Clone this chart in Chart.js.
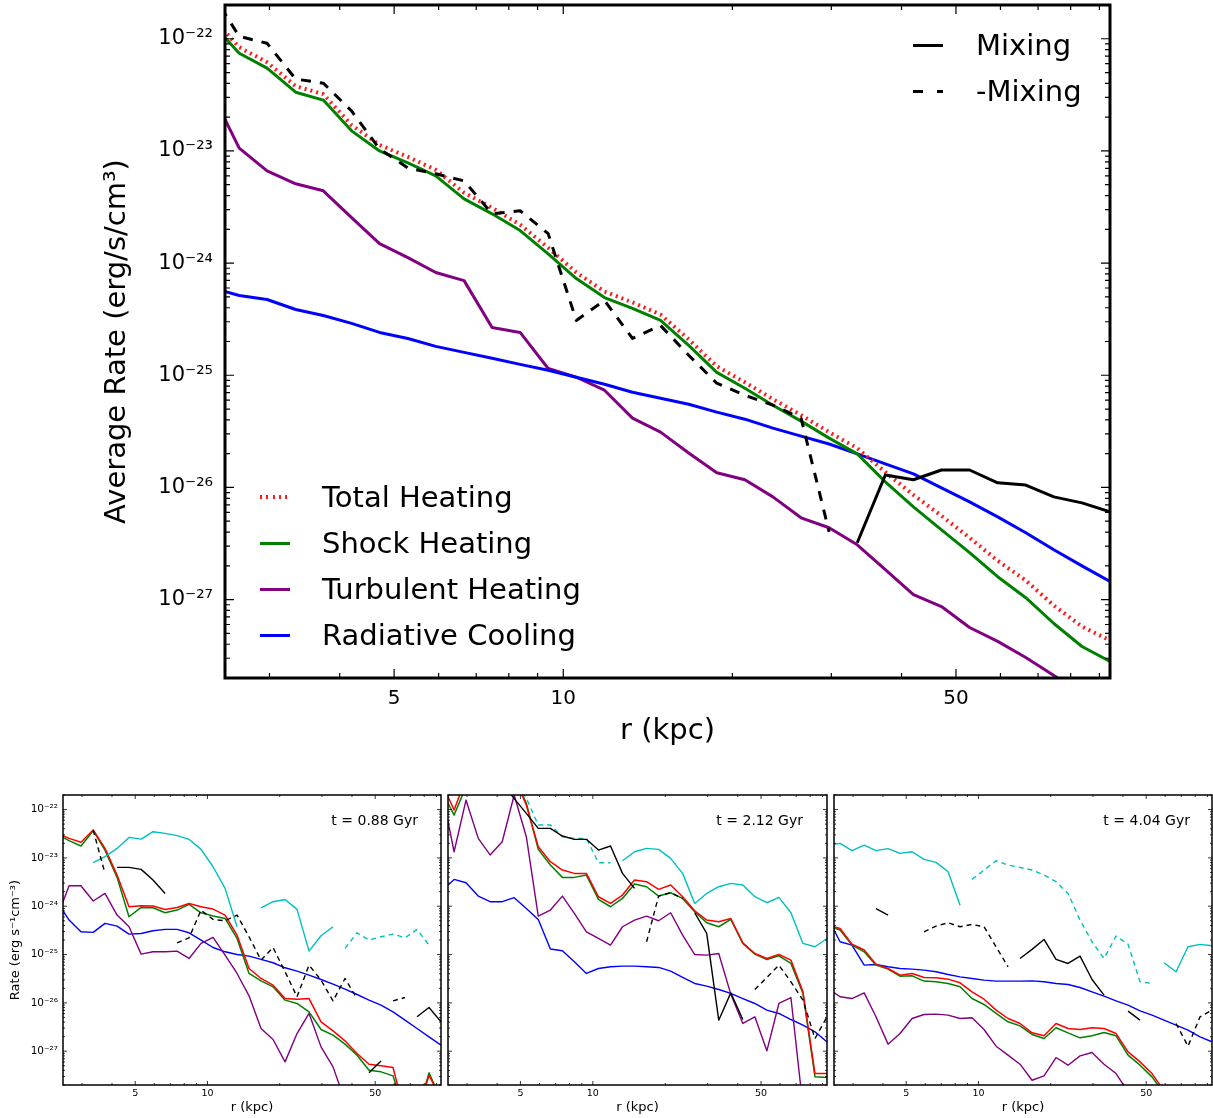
<!DOCTYPE html>
<html>
<head>
<meta charset="utf-8">
<script src="https://cdn.jsdelivr.net/npm/chart.js@4.4.1/dist/chart.umd.min.js"></script>
<style>
  html, body { margin: 0; padding: 0; background: #fff; }
  body { position: relative; width: 1213px; height: 1118px; overflow: hidden; font-family: "DejaVu Sans", sans-serif; color: #000; }
  canvas { position: absolute; }
  .txt { position: absolute; white-space: nowrap; color: #000; z-index: 5; }
  .smp { position: absolute; z-index: 5; }
</style>
</head>
<body>
<script>
// ---------------- data ----------------
const r = [2.36, 2.65, 2.97, 3.34, 3.74, 4.20, 4.71, 5.29, 5.93, 6.66, 7.47, 8.38, 9.40, 10.55, 11.84, 13.28, 14.90, 16.72, 18.76, 21.05, 23.61, 26.50, 29.73, 33.36, 37.43, 42.00, 47.12, 52.87, 59.32, 66.56, 74.68, 83.79, 94.02];

const xMajor = [5, 10, 50];
const xMajorLabels = ['5', '10', '50'];
const xMinor = [3, 4, 6, 7, 8, 9, 20, 30, 40, 60, 70, 80, 90];
const yMajor = [1e-27, 1e-26, 1e-25, 1e-24, 1e-23, 1e-22];
const yMajorLabels = ['10\u207B\u00B2\u2077', '10\u207B\u00B2\u2076', '10\u207B\u00B2\u2075', '10\u207B\u00B2\u2074', '10\u207B\u00B2\u00B3', '10\u207B\u00B2\u00B2'];
const xMin = 2.5, xMax = 94;
const yMin = 2e-28, yMax = 2e-22;

// main panel
const mainTotal = [1.58e-22, 8.4e-23, 6.18e-23, 3.78e-23, 3.21e-23, 1.70e-23, 1.13e-23, 8.85e-24, 6.78e-24, 4.24e-24, 3.11e-24, 2.20e-24, 1.37e-24, 8.24e-25, 5.58e-25, 4.46e-25, 3.48e-25, 2.09e-25, 1.20e-25, 8.67e-26, 6.12e-26, 4.41e-26, 3.11e-26, 2.24e-26, 1.37e-26, 8.57e-27, 5.58e-27, 3.56e-27, 2.22e-27, 1.48e-27, 8.85e-28, 5.75e-28, 4.33e-28];
const mainShock = [1.40e-22, 7.43e-23, 5.47e-23, 3.34e-23, 2.84e-23, 1.51e-23, 1.0e-23, 7.82e-24, 6.0e-24, 3.74e-24, 2.75e-24, 1.95e-24, 1.21e-24, 7.28e-25, 4.93e-25, 3.94e-25, 3.08e-25, 1.85e-25, 1.06e-25, 7.66e-26, 5.41e-26, 3.90e-26, 2.75e-26, 1.99e-26, 1.12e-26, 6.71e-27, 4.19e-27, 2.62e-27, 1.60e-27, 1.04e-27, 6.12e-28, 3.82e-28, 2.81e-28];
const mainTurb = [3.41e-23, 1.06e-23, 6.64e-24, 5.09e-24, 4.41e-24, 2.54e-24, 1.49e-24, 1.12e-24, 8.24e-25, 6.98e-25, 2.67e-25, 2.41e-25, 1.15e-25, 9.6e-26, 7.36e-26, 4.15e-26, 3.11e-26, 2.03e-26, 1.35e-26, 1.17e-26, 8.24e-27, 5.36e-27, 4.37e-27, 3.08e-27, 1.85e-27, 1.11e-27, 8.67e-28, 5.64e-28, 4.24e-28, 3.05e-28, 2.11e-28, 1.43e-28, 1.01e-28];
const mainCool = [6.05e-25, 5.14e-25, 4.74e-25, 3.86e-25, 3.41e-25, 2.90e-25, 2.41e-25, 2.13e-25, 1.81e-25, 1.60e-25, 1.42e-25, 1.25e-25, 1.11e-25, 9.6e-26, 8.32e-26, 7.06e-26, 6.25e-26, 5.52e-26, 4.69e-26, 4.06e-26, 3.38e-26, 2.87e-26, 2.44e-26, 1.99e-26, 1.62e-26, 1.32e-26, 9.9e-27, 7.43e-27, 5.47e-27, 3.94e-27, 2.78e-27, 2.0e-27, 1.45e-27];
const mainMixNeg = [2.64e-22, 1.05e-22, 9.12e-23, 4.37e-23, 4.02e-23, 2.27e-23, 1.04e-23, 7.06e-24, 6.25e-24, 5.41e-24, 2.75e-24, 2.93e-24, 1.83e-24, 3.08e-25, 4.65e-25, 2.13e-25, 2.78e-25, 1.51e-25, 8.49e-26, 6.64e-26, 5.41e-26, 4.15e-26, 4.02e-27, null, null, null, null, null, null, null, null, null, null];
const mainMixPos = [null, null, null, null, null, null, null, null, null, null, null, null, null, null, null, null, null, null, null, null, null, null, null, 3.21e-27, 1.29e-26, 1.17e-26, 1.43e-26, 1.43e-26, 1.10e-26, 1.05e-26, 8.24e-27, 7.28e-27, 6.05e-27];

// panel t = 0.88 Gyr
const s1Total = [3.21e-23, 2.53e-23, 2.10e-23, 3.77e-23, 1.57e-23, 4.41e-24, 9.75e-25, 1.02e-24, 1.01e-24, 8.59e-25, 9.44e-25, 1.14e-24, 9.75e-25, 8.73e-25, 6.55e-25, 2.52e-25, 5.15e-26, 3.20e-26, 2.33e-26, 1.23e-26, 1.19e-26, 1.23e-26, 4.06e-27, 2.64e-27, 1.64e-27, 8.95e-28, 5.39e-28, 4.98e-28, 4.60e-28, 5e-29, 5e-29, 3.19e-28, 1e-28];
const s1Shock = [3.07e-23, 2.27e-23, 1.76e-23, 3.65e-23, 1.45e-23, 3.95e-24, 6.05e-25, 9.44e-25, 9.29e-25, 7.32e-25, 8.32e-25, 1.09e-24, 7.32e-25, 6.25e-25, 5.58e-25, 2.15e-25, 4.06e-26, 2.86e-26, 2.15e-26, 1.14e-26, 9.72e-27, 6.53e-27, 2.81e-27, 2.15e-27, 1.40e-27, 8.28e-28, 4.05e-28, 3.74e-28, 3.09e-28, 5e-29, 5e-29, 3.57e-28, 1e-28];
const s1Turb = [5.77e-25, 2.65e-24, 2.65e-24, 1.28e-24, 1.84e-24, 6.55e-25, 3.76e-25, 1.02e-25, 1.14e-25, 1.14e-25, 1.18e-25, 8.3e-26, 1.70e-25, 2.26e-25, 9.73e-26, 4.06e-26, 1.40e-26, 2.95e-27, 1.75e-27, 6.02e-28, 2.32e-27, 6.04e-27, 1.23e-27, 4.74e-28, 9.3e-29, null, null, null, null, null, null, null, null];
const s1Cool = [1.26e-24, 5.16e-25, 2.96e-25, 2.87e-25, 4.41e-25, 3.88e-25, 2.65e-25, 2.73e-25, 3.10e-25, 3.31e-25, 3.31e-25, 2.82e-25, 1.99e-25, 1.40e-25, 1.14e-25, 1.00e-25, 9.29e-26, 7.92e-26, 6.76e-26, 5.32e-26, 4.54e-26, 3.75e-26, 3.05e-26, 2.44e-26, 1.92e-26, 1.49e-26, 1.14e-26, 8.97e-27, 6.53e-27, 4.39e-27, 2.95e-27, 1.98e-27, 1.33e-27];
const s1MixPos = [null, null, null, null, null, 6.35e-24, 6.35e-24, 5.78e-24, 3.48e-24, 1.84e-24, null, null, null, null, null, null, null, null, null, null, null, null, null, null, null, null, 3.57e-28, 6.31e-28, null, null, 5.15e-27, 8.03e-27, 4.06e-27];
const s1MixNeg = [null, null, null, 3.77e-23, 4.78e-24, null, null, null, null, null, 1.75e-25, 2.22e-25, 8.32e-25, 5.33e-25, 5.0e-25, 6.55e-25, 2.33e-25, 7.67e-26, 1.40e-25, 4.40e-26, 1.34e-26, 6.04e-26, 2.96e-26, 1.10e-26, 3.20e-26, 1.23e-26, null, null, 1.10e-26, 1.29e-26, null, null, null];
const s1CyanPos = [null, null, null, 7.94e-24, 1.06e-23, 1.57e-23, 2.65e-23, 2.45e-23, 3.48e-23, 3.21e-23, 2.88e-23, 2.42e-23, 1.50e-23, 6.56e-24, 2.34e-24, 3.76e-25, null, 9.29e-25, 1.24e-24, 1.38e-24, 8.59e-25, 1.18e-25, 2.45e-25, 3.76e-25, null, null, null, null, null, null, null, null, null];
const s1CyanNeg = [null, null, null, null, null, null, null, null, null, null, null, null, null, null, null, null, null, null, null, null, null, null, null, null, 1.34e-25, 2.82e-25, 1.99e-25, 2.33e-25, 2.65e-25, 2.22e-25, 3.31e-25, 1.57e-25, null];

// panel t = 2.12 Gyr
const s2Total = [3.48e-22, 9.77e-23, 4.43e-22, 6.59e-22, 6.59e-22, 6.59e-22, 4.80e-22, 1.24e-22, 1.70e-23, 8.33e-24, 5.60e-24, 4.78e-24, 4.78e-24, 1.57e-24, 1.14e-24, 1.70e-24, 3.48e-24, 3.21e-24, 2.23e-24, 2.74e-24, 1.57e-24, 8.05e-25, 5.16e-25, 4.77e-25, 5.58e-25, 1.75e-25, 1.05e-25, 8.30e-26, 1.00e-25, 7.67e-26, 1.69e-26, 3.45e-28, 3.45e-28];
const s2Shock = [2.34e-22, 7.70e-23, 2.97e-22, 6.59e-22, 6.59e-22, 6.59e-22, 4.80e-22, 1.35e-22, 1.50e-23, 7.11e-24, 3.95e-24, 3.95e-24, 4.41e-24, 1.38e-24, 9.75e-25, 1.45e-24, 2.87e-24, 2.53e-24, 1.62e-24, 1.90e-24, 1.45e-24, 7.68e-25, 4.55e-25, 3.76e-25, 5.33e-25, 1.70e-25, 1.02e-25, 7.92e-26, 9.44e-26, 6.54e-26, 1.57e-26, 2.95e-28, 2.86e-28];
const s2Turb = [2.34e-22, 1.34e-23, 1.57e-22, 2.53e-23, 1.15e-23, 2.16e-23, 2.0e-22, 2.74e-23, 6.25e-25, 8.32e-25, 1.62e-24, 7.10e-25, 2.96e-25, 2.15e-25, 1.57e-25, 3.76e-25, 5.16e-25, 6.25e-25, 5.0e-25, 7.32e-25, 2.52e-25, 1.00e-25, 9.73e-26, 1.05e-25, 1.52e-26, 3.75e-27, 5.15e-27, 1.02e-27, 9.72e-27, 1.29e-26, 7.05e-29, null, null];
const s2Cool = [2.09e-24, 3.59e-24, 3.06e-24, 1.62e-24, 1.24e-24, 1.24e-24, 1.50e-24, 9.01e-25, 5.33e-25, 1.30e-25, 1.20e-25, 7.08e-26, 4.06e-26, 5.15e-26, 5.58e-26, 5.75e-26, 5.75e-26, 5.58e-26, 5.41e-26, 4.54e-26, 3.36e-26, 2.52e-26, 2.22e-26, 1.89e-26, 1.57e-26, 1.23e-26, 9.72e-27, 7.07e-27, 6.04e-27, 4.53e-27, 3.46e-27, 2.52e-27, 1.56e-27];
const s2MixPos = [null, null, null, null, null, 3.48e-22, 1.68e-22, 8.34e-23, 4.08e-23, 4.08e-23, 2.83e-23, 2.42e-23, 2.42e-23, 1.45e-23, 1.76e-23, 4.78e-24, 2.34e-24, null, null, null, null, 7.32e-25, 2.73e-25, 4.39e-27, 1.61e-26, 4.53e-27, null, null, null, null, null, null, null];
const s2MixNeg = [null, null, null, null, null, null, null, null, null, null, null, null, null, null, null, null, null, 1.84e-25, 1.62e-24, 1.90e-24, 1.45e-24, null, null, null, null, null, 1.89e-26, 3.36e-26, 6.04e-26, 2.73e-26, 1.14e-26, 1.83e-27, 5.15e-27];
const s2CyanPos = [null, null, null, null, null, null, null, null, null, null, null, null, null, null, null, 8.73e-24, 1.34e-23, 1.57e-23, 1.50e-23, 9.77e-24, 4.78e-24, 1.14e-24, 1.84e-24, 2.53e-24, 2.97e-24, 2.74e-24, 1.57e-24, 1.18e-24, 1.52e-24, 7.32e-25, 1.70e-25, 1.45e-25, 2.15e-25];
const s2CyanNeg = [null, null, null, null, null, null, 4.80e-22, 1.71e-22, 4.78e-23, 4.78e-23, 2.74e-23, 2.53e-23, 2.53e-23, 7.94e-24, 7.94e-24, null, null, null, null, null, null, null, null, null, null, null, null, null, null, null, null, null, null];

// panel t = 4.04 Gyr
const s3Total = [4.07e-25, 3.47e-25, 1.64e-25, 1.24e-25, 6.34e-26, 5.15e-26, 3.75e-26, 4.06e-26, 3.36e-26, 3.30e-26, 3.10e-26, 2.60e-26, 1.69e-26, 1.19e-26, 7.07e-27, 4.75e-27, 3.75e-27, 2.40e-27, 2.08e-27, 3.75e-27, 2.95e-27, 2.81e-27, 3.05e-27, 2.95e-27, 2.32e-27, 9.70e-28, 6.02e-28, 3.45e-28, 1.51e-28, 6e-29, null, null, null];
const s3Shock = [3.94e-25, 3.21e-25, 1.57e-25, 1.14e-25, 6.04e-26, 4.99e-26, 3.57e-26, 3.63e-26, 2.82e-26, 2.73e-26, 2.52e-26, 2.15e-26, 1.23e-26, 9.27e-27, 6.04e-27, 4.06e-27, 3.35e-27, 2.22e-27, 1.83e-27, 3.05e-27, 2.40e-27, 1.89e-27, 2.08e-27, 2.44e-27, 2.08e-27, 8.28e-28, 5.14e-28, 2.95e-28, 1.33e-28, 6e-29, null, null, null];
const s3Turb = [1.99e-26, 1.34e-26, 1.23e-26, 1.61e-26, 5.15e-27, 1.40e-27, 2.32e-27, 4.75e-27, 5.75e-27, 5.85e-27, 5.57e-27, 4.75e-27, 4.91e-27, 2.81e-27, 1.27e-27, 8.28e-28, 5.39e-28, 2.51e-28, 3.09e-28, 7.41e-28, 5.14e-28, 8.02e-28, 9.40e-28, 5.39e-28, 3.45e-28, 1.44e-28, null, null, null, null, null, null, null];
const s3Cool = [5.58e-25, 1.84e-25, 1.57e-25, 6.04e-26, 6.24e-26, 5.58e-26, 5.15e-26, 4.99e-26, 4.76e-26, 4.40e-26, 3.87e-26, 3.46e-26, 3.20e-26, 2.96e-26, 2.82e-26, 2.82e-26, 2.82e-26, 2.86e-26, 2.73e-26, 2.52e-26, 2.40e-26, 2.08e-26, 1.69e-26, 1.38e-26, 1.10e-26, 8.97e-27, 6.85e-27, 5.57e-27, 4.39e-27, 3.46e-27, 2.73e-27, 1.98e-27, 1.56e-27];
const s3MixPos = [null, null, null, null, 8.87e-25, 6.55e-25, null, null, null, null, null, null, null, null, null, null, 8.30e-26, 1.28e-25, 2.05e-25, 7.92e-26, 6.54e-26, 9.29e-26, 3.05e-26, 1.45e-26, null, 6.74e-27, 4.39e-27, null, null, null, null, null, null];
const s3MixNeg = [null, null, null, null, null, null, null, null, 2.96e-25, 3.88e-25, 4.55e-25, 3.76e-25, 4.20e-25, 3.76e-25, 1.45e-25, 5.58e-26, null, null, null, null, null, null, null, null, null, null, null, null, null, 3.75e-27, 1.27e-27, 5.15e-27, 7.07e-27];
const s3CyanPos = [1.84e-23, 2.0e-23, 1.41e-23, 1.84e-23, 1.41e-23, 1.55e-23, 1.24e-23, 1.34e-23, 9.31e-24, 8.07e-24, 5.18e-24, 1.05e-24, null, null, null, null, null, null, null, null, null, null, null, null, null, null, null, null, 6.76e-26, 4.40e-26, 1.45e-25, 1.62e-25, 1.52e-25];
const s3CyanNeg = [null, null, null, null, null, null, null, null, null, null, null, null, 3.59e-24, 5.60e-24, 8.73e-24, 7.11e-24, 6.35e-24, 5.60e-24, 4.41e-24, 3.21e-24, 1.84e-24, 5.16e-25, 1.84e-25, 8.30e-26, 2.41e-25, 1.64e-25, 2.73e-26, 2.52e-26, null, null, null, null, null];

const mainLegendLabels = ['Total Heating', 'Shock Heating', 'Turbulent Heating', 'Radiative Cooling'];
const mixLegendLabels = ['Mixing', '-Mixing'];
const panelTitles = ['t = 0.88 Gyr', 't = 2.12 Gyr', 't = 4.04 Gyr'];

// ---------------- styling / drawing ----------------
const C = { red: '#ff0000', green: '#008000', purple: '#800080', blue: '#0000ff', black: '#000000', cyan: '#00bfbf' };

Chart.defaults.font.family = "'DejaVu Sans', sans-serif";
Chart.defaults.color = '#000';

const yMinor = [];
for (let e = -28; e <= -22; e++) {
  for (let k = 2; k <= 9; k++) {
    const v = k * Math.pow(10, e);
    if (v >= yMin * 0.999 && v <= yMax * 1.001) yMinor.push(v);
  }
}

const mplFrame = {
  id: 'mplFrame',
  afterDraw(chart, args, o) {
    const { ctx, chartArea: a, scales } = chart;
    const x = scales.x, y = scales.y;
    ctx.save();
    ctx.strokeStyle = '#000';
    ctx.lineWidth = o.tickWidth;
    ctx.beginPath();
    x.ticks.forEach(t => {
      const p = x.getPixelForValue(t.value);
      if (p < a.left - 0.5 || p > a.right + 0.5) return;
      const len = xMajor.includes(t.value) ? o.major : o.minor;
      ctx.moveTo(p, a.bottom); ctx.lineTo(p, a.bottom - len);
      ctx.moveTo(p, a.top); ctx.lineTo(p, a.top + len);
    });
    y.ticks.forEach(t => {
      const p = y.getPixelForValue(t.value);
      if (p < a.top - 0.5 || p > a.bottom + 0.5) return;
      const len = yMajor.includes(t.value) ? o.major : o.minor;
      ctx.moveTo(a.left, p); ctx.lineTo(a.left + len, p);
      ctx.moveTo(a.right, p); ctx.lineTo(a.right - len, p);
    });
    ctx.stroke();
    ctx.lineWidth = o.frame;
    ctx.strokeRect(a.left, a.top, a.right - a.left, a.bottom - a.top);
    ctx.restore();
  }
};

function ds(values, color, width, dash) {
  return {
    data: r.map((x, i) => ({ x: x, y: values[i] })),
    borderColor: color, backgroundColor: color,
    borderWidth: width, borderDash: dash || [],
    pointRadius: 0, pointHoverRadius: 0, fill: false, tension: 0,
    clip: 0, borderJoinStyle: 'round', borderCapStyle: 'butt', spanGaps: false
  };
}

function makeChart(opt) {
  const cv = document.createElement('canvas');
  cv.width = opt.w; cv.height = opt.h;
  cv.style.left = opt.left + 'px'; cv.style.top = opt.top + 'px';
  cv.style.width = opt.w + 'px'; cv.style.height = opt.h + 'px';
  document.body.appendChild(cv);
  return new Chart(cv.getContext('2d'), {
    type: 'line',
    data: { datasets: opt.datasets },
    plugins: [mplFrame],
    options: {
      responsive: false, animation: false, devicePixelRatio: 1,
      events: [],
      layout: { padding: opt.padding },
      plugins: { legend: { display: false }, tooltip: { enabled: false }, mplFrame: opt.frame },
      scales: {
        x: {
          type: 'logarithmic', min: xMin, max: xMax, bounds: 'data',
          afterBuildTicks: s => { s.ticks = xMajor.concat(xMinor).sort((a, b) => a - b).map(v => ({ value: v })); },
          afterFit: s => { s.height = opt.xHeight; s.paddingLeft = 0; s.paddingRight = 0; s.paddingTop = 0; s.paddingBottom = 0; },
          grid: { display: false, drawTicks: false }, border: { display: false },
          ticks: {
            autoSkip: false, maxRotation: 0, minRotation: 0, padding: opt.xPad, color: '#000',
            font: { size: opt.xTick },
            callback: v => { const k = xMajor.indexOf(v); return k >= 0 ? xMajorLabels[k] : ''; }
          },
          title: { display: true, text: 'r (kpc)', color: '#000', font: { size: opt.xTitle }, padding: { top: 0, bottom: opt.xTitlePad } }
        },
        y: {
          type: 'logarithmic', min: yMin, max: yMax, bounds: 'data',
          afterBuildTicks: s => { s.ticks = yMinor.concat(yMajor).sort((a, b) => a - b).map(v => ({ value: v })); },
          afterFit: s => { s.width = opt.yWidth; s.paddingLeft = 0; s.paddingRight = 0; s.paddingTop = 0; s.paddingBottom = 0; },
          grid: { display: false, drawTicks: false }, border: { display: false },
          ticks: {
            autoSkip: false, padding: opt.yPad, color: '#000',
            font: { size: opt.yTick },
            callback: v => { if (!opt.yLabels) return ''; const k = yMajor.indexOf(v); return k >= 0 ? yMajorLabels[k] : ''; }
          },
          title: { display: !!opt.yTitle, text: opt.yTitle || '', color: '#000', font: { size: opt.yTitleSize || 12 }, padding: { top: opt.yTitlePad || 0, bottom: 0 } }
        }
      }
    }
  });
}

// Main chart
makeChart({
  left: 0, top: 0, w: 1213, h: 760,
  padding: { left: 0, top: 5, right: 103, bottom: 0 },
  xHeight: 82, yWidth: 225, xPad: 9, yPad: 12, xTick: 20, yTick: 21, yLabels: true,
  xTitle: 29, xTitlePad: 11,
  yTitle: 'Average Rate (erg/s/cm\u00B3)', yTitleSize: 29, yTitlePad: 100,
  frame: { frame: 3, tickWidth: 1.2, major: 9, minor: 5 },
  datasets: [
    ds(mainMixNeg, C.black, 3, [10, 9]),
    ds(mainMixPos, C.black, 3),
    ds(mainTotal, 'rgb(255,25,25)', 4, [2, 4]),
    ds(mainShock, C.green, 3),
    ds(mainCool, C.blue, 3),
    ds(mainTurb, C.purple, 3)
  ]
});

const panels = [
  { left: 0, w: 445, padR: 4, yWidth: 63, labels: true,
    sets: [s1Total, s1Shock, s1Turb, s1Cool, s1MixPos, s1MixNeg, s1CyanPos, s1CyanNeg] },
  { left: 445, w: 385, padR: 3, yWidth: 3, labels: false,
    sets: [s2Total, s2Shock, s2Turb, s2Cool, s2MixPos, s2MixNeg, s2CyanPos, s2CyanNeg] },
  { left: 831, w: 382, padR: 1, yWidth: 3, labels: false,
    sets: [s3Total, s3Shock, s3Turb, s3Cool, s3MixPos, s3MixNeg, s3CyanPos, s3CyanNeg] }
];

panels.forEach((p, idx) => {
  const [tot, sho, tur, coo, mp, mn, cp, cn] = p.sets;
  makeChart({
    left: p.left, top: 785, w: p.w, h: 333,
    padding: { left: 0, top: 10, right: p.padR, bottom: 0 },
    xHeight: 33, yWidth: p.yWidth, xPad: 3, yPad: 5, xTick: 9.5, yTick: 10.5, yLabels: p.labels,
    xTitle: 13, xTitlePad: 3,
    yTitle: p.labels ? 'Rate (erg s\u207B\u00B9cm\u207B\u00B3)' : null, yTitleSize: 13, yTitlePad: 8,
    frame: { frame: 1.5, tickWidth: 0.8, major: 4, minor: 2 },
    datasets: [
      ds(mn, C.black, 1.4, [5, 4]),
      ds(mp, C.black, 1.4),
      ds(cn, C.cyan, 1.4, [5, 4]),
      ds(cp, C.cyan, 1.4),
      ds(tot, C.red, 1.5),
      ds(sho, C.green, 1.5),
      ds(tur, C.purple, 1.4),
      ds(coo, C.blue, 1.4)
    ]
  });
  const t = document.createElement('div');
  t.className = 'txt';
  t.textContent = panelTitles[idx];
  t.style.fontSize = '14px';
  t.style.lineHeight = '16px';
  t.style.top = '812px';
  const rightEdge = [418, 803, 1190][idx];
  t.style.right = (1213 - rightEdge) + 'px';
  document.body.appendChild(t);
});

// Legends (HTML overlay)
function legendRow(label, yc, sx, sw, tx, sampleCss) {
  const s = document.createElement('div');
  s.className = 'smp';
  s.style.left = sx + 'px'; s.style.width = sw + 'px';
  Object.assign(s.style, sampleCss(yc));
  document.body.appendChild(s);
  const t = document.createElement('div');
  t.className = 'txt';
  t.textContent = label;
  t.style.left = tx + 'px'; t.style.top = (yc - 18) + 'px';
  t.style.fontSize = '29px'; t.style.lineHeight = '36px';
  document.body.appendChild(t);
}
const solid = (col, w) => yc => ({ top: (yc - w / 2) + 'px', height: w + 'px', background: col });
const mainSamples = [
  yc => ({ top: (yc - 2) + 'px', height: '4px', background: 'repeating-linear-gradient(90deg, rgb(255,25,25) 0 2px, transparent 2px 6.3px)' }),
  solid(C.green, 3), solid(C.purple, 3), solid(C.blue, 3)
];
mainLegendLabels.forEach((lab, k) => legendRow(lab, 497 + 46 * k, 260, 30, 322, mainSamples[k]));
const mixSamples = [
  solid(C.black, 3),
  yc => ({ top: (yc - 1.5) + 'px', height: '3px', background: 'repeating-linear-gradient(90deg, #000 0 10px, transparent 10px 24px)' })
];
mixLegendLabels.forEach((lab, k) => legendRow(lab, 45 + 46 * k, 913, 30, 976, mixSamples[k]));
</script>
</body>
</html>
